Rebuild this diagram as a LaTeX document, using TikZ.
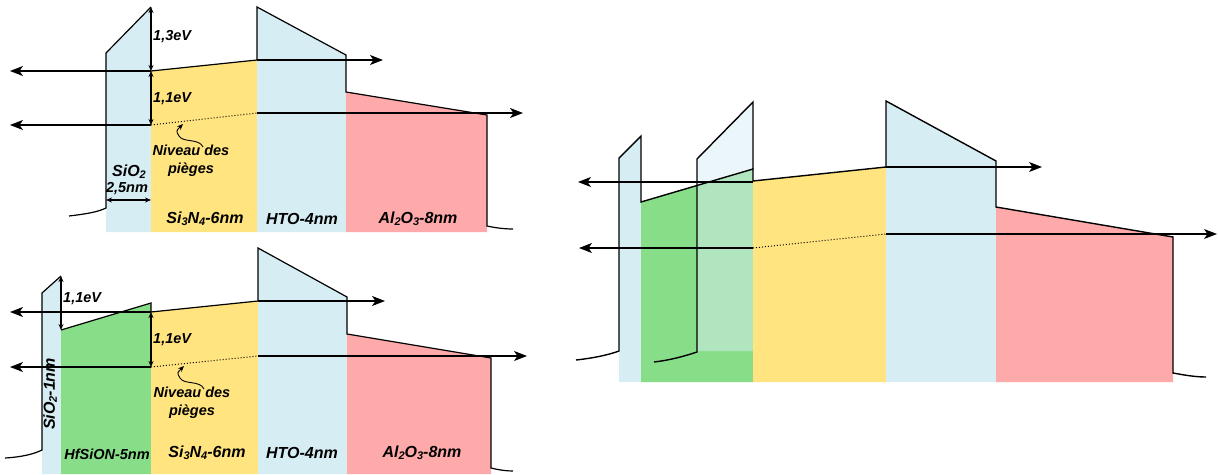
\documentclass[tikz,border=0pt]{standalone}
\usepackage{fontspec}
\setmainfont{Liberation Sans}
\usetikzlibrary{arrows.meta, positioning}
\definecolor{oxblue}{RGB}{214,237,243}
\definecolor{nitryellow}{RGB}{255,228,128}
\definecolor{hfgreen}{RGB}{136,221,136}
\definecolor{alred}{RGB}{255,170,170}
\newcommand{\lo}[1]{\raisebox{-0.12em}{\fontsize{11}{11}\selectfont #1}}

\begin{document}
\begin{tikzpicture}[x=1pt, y=-1pt,
    band/.style={line width=1.2pt, line join=miter},
    arr/.style={-{Stealth[length=13pt,width=10pt,inset=3.5pt]}, line width=1.1pt},
    evarr/.style={{Stealth[length=6pt,width=5pt]}-{Stealth[length=6pt,width=5pt]}, line width=1.1pt},
    curl/.style={-{Stealth[length=6pt,width=5pt]}, line width=0.9pt},
    trap/.style={dotted, line width=1pt},
    lbl/.style={font=\fontsize{16}{18}\selectfont\bfseries\itshape, inner sep=0pt},
    sml/.style={font=\fontsize{14.5}{18}\selectfont\bfseries\itshape, inner sep=0pt, align=center}
  ]
  \useasboundingbox (0,0) rectangle (1218,474);

  % --- top left: SiO2 / Si3N4 / HTO / Al2O3
  \fill[oxblue] (106,232) -- (106,53) -- (151,7) -- (151,232) -- cycle;
  \fill[nitryellow] (151,71) -- (257,60) -- (257,232) -- (151,232) -- cycle;
  \fill[oxblue] (257,7) -- (346,55) -- (346,232) -- (257,232) -- cycle;
  \fill[alred] (346,92) -- (487,115) -- (487,232) -- (346,232) -- cycle;
  \draw[band] (69,216) .. controls (86,214) and (98,212) .. (106,208)
    -- (106,53) -- (151,7);
  \draw[band] (151,71) -- (257,60) -- (257,7) -- (346,55) -- (346,92)
    -- (487,115) -- (487,226) .. controls (496,228) and (505,229) .. (513,229);
  \coordinate (a1) at (151,7);
  \coordinate (a2) at (151,71);
  \coordinate (a3) at (151,125);
  \coordinate (a4) at (257,60);
  \coordinate (a5) at (257,113);
  \draw[arr] (a2) -- (10,71);
  \draw[arr] (a3) -- (10,125);
  \draw[arr] (a4) -- (383,60);
  \draw[trap] (a3) -- (a5);
  \draw[arr] (a5) -- (523,113);
  \draw[evarr] (a1) -- (a2);
  \draw[evarr] (a2) -- (a3);
  \draw[evarr] (106,200) -- (151,200);
  \node[sml, anchor=west] (ev13) at (153,37) {1,3eV};
  \node[sml, anchor=west] (ev11a) at (153,99) {1,1eV};
  \node[sml] (niva) at (191,161) {Niveau des\\pièges};
  \coordinate (ca) at (203,147);
  \draw[curl] (ca) .. controls (199,138) and (183,143) .. (179,136)
    .. controls (176,131) .. (183,124);
  \node[lbl] (sioa) at (129,172) {SiO\lo{2}};
  \node[sml] (thka) at (127,189) {2,5nm};
  \node[lbl] (nita) at (205,219) {Si\lo{3}N\lo{4}-6nm};
  \node[lbl] (htoa) at (302,219) {HTO-4nm};
  \node[lbl] (ala) at (418,219) {Al\lo{2}O\lo{3}-8nm};

  % --- bottom left: SiO2 / HfSiON / Si3N4 / HTO / Al2O3
  \fill[oxblue] (42,474) -- (42,293) -- (61,276) -- (61,474) -- cycle;
  \fill[hfgreen] (61,330) -- (151,303) -- (151,474) -- (61,474) -- cycle;
  \fill[nitryellow] (151,312) -- (258,301) -- (258,474) -- (151,474) -- cycle;
  \fill[oxblue] (258,248) -- (347,297) -- (347,474) -- (258,474) -- cycle;
  \fill[alred] (347,334) -- (491,358) -- (491,474) -- (347,474) -- cycle;
  \draw[band] (5,458) .. controls (22,457) and (34,454) .. (42,450)
    -- (42,293) -- (61,276);
  \draw[band] (61,330) -- (151,303) -- (151,312) -- (258,301) -- (258,248)
    -- (347,297) -- (347,334) -- (491,358) -- (491,468)
    .. controls (499,470) and (506,471) .. (513,471);
  \coordinate (b1) at (61,276);
  \coordinate (b2) at (61,330);
  \coordinate (b3) at (151,312);
  \coordinate (b4) at (151,367);
  \coordinate (b5) at (258,301);
  \coordinate (b6) at (258,356);
  \draw[arr] (b3) -- (10,312);
  \draw[arr] (b4) -- (10,367);
  \draw[arr] (b5) -- (385,301);
  \draw[trap] (b4) -- (b6);
  \draw[arr] (b6) -- (527,356);
  \draw[evarr] (b1) -- (b2);
  \draw[evarr] (b3) -- (b4);
  \node[sml, anchor=west] (ev11b) at (63,299) {1,1eV};
  \node[sml, anchor=west] (ev11c) at (153,340) {1,1eV};
  \node[sml] (nivb) at (192,403) {Niveau des\\pièges};
  \coordinate (cb) at (204,389);
  \draw[curl] (cb) .. controls (200,380) and (184,385) .. (180,378)
    .. controls (177,373) .. (184,366);
  \node[lbl, rotate=90] (siob) at (50,394) {SiO\lo{2}-1nm};
  \node[sml] (hfb) at (107,454) {HfSiON-5nm};
  \node[lbl] (nitb) at (207,453) {Si\lo{3}N\lo{4}-6nm};
  \node[lbl] (htob) at (302,453) {HTO-4nm};
  \node[lbl] (alb) at (422,453) {Al\lo{2}O\lo{3}-8nm};

  % --- right: band diagram with shifted SiO2 barrier
  \fill[oxblue] (619,382) -- (619,158) -- (641,136) -- (641,382) -- cycle;
  \fill[hfgreen] (641,202) -- (753,169) -- (753,382) -- (641,382) -- cycle;
  \fill[oxblue, opacity=0.52] (697,351) -- (697,159) -- (753,102) -- (753,351) -- cycle;
  \fill[nitryellow] (753,181) -- (886,167) -- (886,382) -- (753,382) -- cycle;
  \fill[oxblue] (886,101) -- (996,161) -- (996,382) -- (886,382) -- cycle;
  \fill[alred] (996,207) -- (1173,237) -- (1173,382) -- (996,382) -- cycle;
  \draw[band, line width=1.4pt] (576,360) .. controls (594,358) and (608,355) .. (619,351)
    -- (619,158) -- (641,136) -- (641,202) -- (753,169) -- (753,181)
    -- (886,167) -- (886,101) -- (996,161) -- (996,207) -- (1173,237)
    -- (1173,373) .. controls (1184,375) and (1195,377) .. (1206,377);
  \draw[band, line width=1.4pt] (654,362) .. controls (671,360) and (685,356) .. (697,352)
    -- (697,159) -- (753,102) -- (753,169);
  \coordinate (r1) at (753,182);
  \coordinate (r2) at (886,167);
  \coordinate (r3) at (753,248);
  \coordinate (r4) at (886,234);
  \draw[arr] (r1) -- (578,182);
  \draw[arr] (r2) -- (1042,167);
  \draw[arr] (r3) -- (579,248);
  \draw[trap] (r3) -- (r4);
  \draw[arr] (r4) -- (1217,234);
\end{tikzpicture}
\end{document}
